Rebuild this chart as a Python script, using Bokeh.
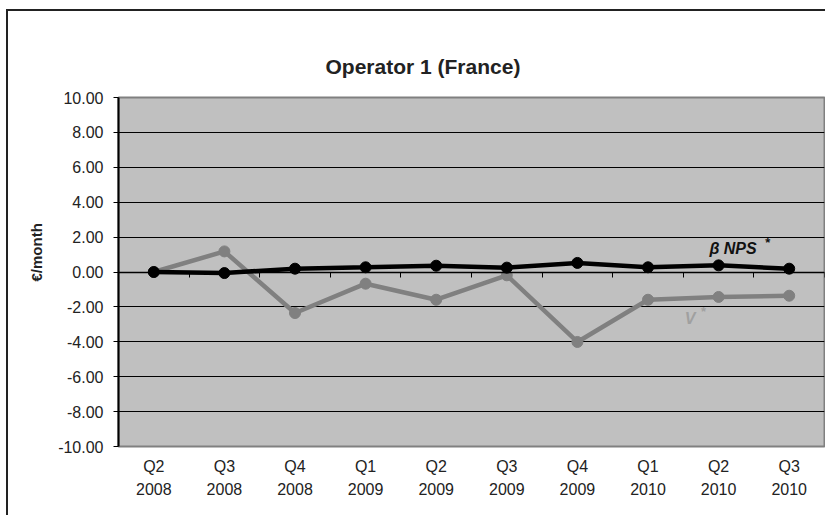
from bokeh.plotting import figure
from bokeh.models import (Range1d, FixedTicker, NumeralTickFormatter, LinearAxis,
                          Label, Title, ColumnDataSource)
from bokeh.embed import file_html
from bokeh.resources import INLINE

quarters = ["Q2", "Q3", "Q4", "Q1", "Q2", "Q3", "Q4", "Q1", "Q2", "Q3"]
years = ["2008", "2008", "2008", "2009", "2009", "2009", "2009", "2010", "2010", "2010"]
beta_nps = [0.00, -0.06, 0.19, 0.27, 0.36, 0.25, 0.52, 0.27, 0.38, 0.19]
v_star = [0.00, 1.18, -2.35, -0.67, -1.59, -0.19, -4.01, -1.59, -1.43, -1.36]
y_ticks = [-10, -8, -6, -4, -2, 0, 2, 4, 6, 8, 10]

idx = list(range(len(quarters)))
src = ColumnDataSource(dict(x=idx, b=beta_nps, v=v_star))

FONT = "Liberation Sans"

# canvas sits inside a left/top border (offset 8px, 11px from page corner)
p = figure(width=819, height=506, output_backend="svg", toolbar_location=None,
           x_range=Range1d(-0.5, len(quarters) - 0.5), y_range=Range1d(-10, 10),
           min_border_left=110, min_border_right=3, min_border_top=86, min_border_bottom=71,
           title="Operator 1 (France)")
p.styles = {"margin-left": "6px", "margin-top": "9px",
            "border-left": "2px solid #222222", "border-top": "2px solid #222222"}
p.title.text_font = FONT
p.title.text_font_size = "21px"
p.title.text_font_style = "bold"
p.title.align = "left"
p.title.offset = 207
p.title.standoff = 39
p.title.text_color = "#222222"

p.background_fill_color = "#c0c0c0"
p.border_fill_color = "white"
p.outline_line_color = "#808080"
p.outline_line_width = 2

# grid
p.xgrid.grid_line_color = None
p.ygrid.ticker = FixedTicker(ticks=[t for t in y_ticks if abs(t) < 10])
p.ygrid.grid_line_color = "black"
p.ygrid.grid_line_width = 1

# y axis
p.yaxis.ticker = FixedTicker(ticks=y_ticks)
p.yaxis.formatter = NumeralTickFormatter(format="0.00")
p.yaxis.major_label_text_font = FONT
p.yaxis.major_label_text_font_size = "16px"
p.yaxis.major_label_text_color = "#222222"
p.yaxis.major_tick_out = 5
p.yaxis.major_tick_in = 0
p.yaxis.minor_tick_line_color = None
p.yaxis.axis_line_color = "black"
p.yaxis.axis_line_width = 2
p.yaxis.major_label_standoff = 10

# y axis title, placed slightly above the frame centre as in the reference
p.add_layout(Title(text="€/month", align="left", offset=165, standoff=22,
                   text_font=FONT, text_font_size="15px", text_font_style="bold",
                   text_color="#222222"), "left")

# bottom axis with category labels
p.xaxis.ticker = FixedTicker(ticks=idx)
p.xaxis.major_label_overrides = {i: f"{q}\n{y}" for i, (q, y) in enumerate(zip(quarters, years))}
p.xaxis.major_label_text_font = FONT
p.xaxis.major_label_text_font_size = "16px"
p.xaxis.major_label_text_color = "#222222"
p.xaxis.major_label_text_line_height = 1.4
p.xaxis.major_tick_line_color = None
p.xaxis.minor_tick_line_color = None
p.xaxis.axis_line_color = None
p.xaxis.major_label_standoff = 5

# axis at zero with category boundary ticks
bounds = [i + 0.5 for i in idx]
zero_axis = LinearAxis(fixed_location=0, ticker=FixedTicker(ticks=bounds),
                       major_label_overrides={b: "" for b in bounds},
                       major_tick_out=5, major_tick_in=0,
                       minor_tick_line_color=None, axis_line_color="black", axis_line_width=1.5,
                       major_tick_line_color="black")
p.add_layout(zero_axis, "below")

# series
p.line("x", "v", source=src, line_color="#808080", line_width=4.5)
p.scatter("x", "v", source=src, size=11, fill_color="#808080", line_color="#808080")
p.line("x", "b", source=src, line_color="black", line_width=4.5)
p.scatter("x", "b", source=src, size=11, fill_color="black", line_color="black")

# series labels
p.add_layout(Label(x=7.87, y=1.34, text="β NPS", text_font=FONT, text_font_size="16px",
                   text_font_style="bold italic", text_color="#111111", text_baseline="middle"))
p.add_layout(Label(x=8.66, y=1.70, text="*", text_font=FONT, text_font_size="13px",
                   text_font_style="bold", text_color="#111111", text_baseline="middle"))
p.add_layout(Label(x=7.52, y=-2.68, text="V", text_font=FONT, text_font_size="16px",
                   text_font_style="bold italic", text_color="#a0a0a0", text_baseline="middle"))
p.add_layout(Label(x=7.75, y=-2.28, text="*", text_font=FONT, text_font_size="13px",
                   text_font_style="bold", text_color="#a0a0a0", text_baseline="middle"))

open("out.html", "w").write(file_html(p, INLINE))
